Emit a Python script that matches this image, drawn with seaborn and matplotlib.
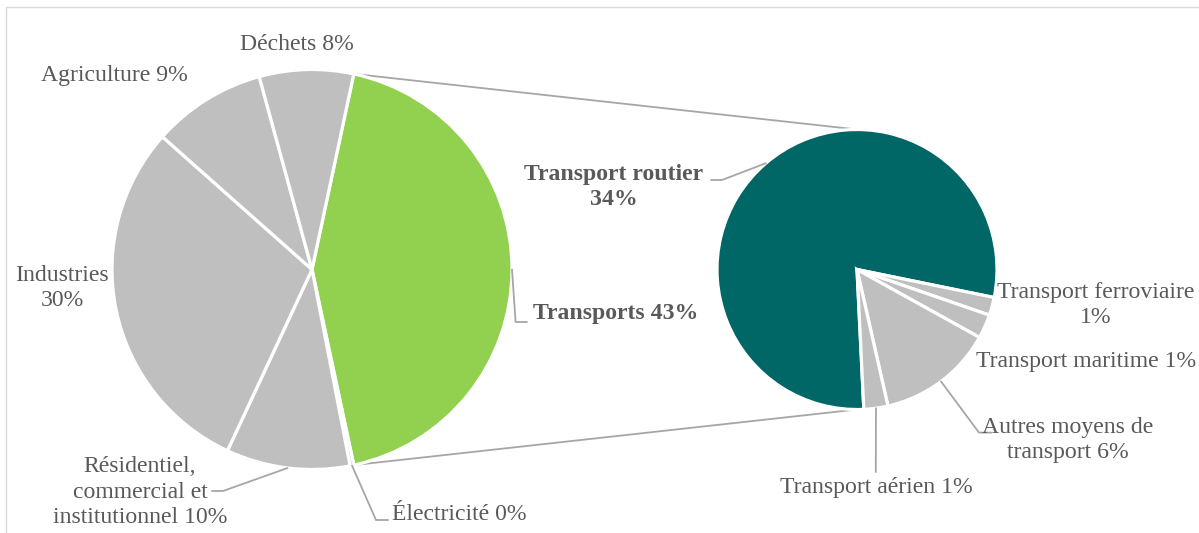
import numpy as np
import matplotlib
matplotlib.use("Agg")
import matplotlib.pyplot as plt
import seaborn as sns
from matplotlib.patches import Rectangle

# ---------------- data ----------------
main_names = ["Transports", "Électricité", "Résidentiel,\ncommercial et\ninstitutionnel",
              "Industries", "Agriculture", "Déchets"]
main_values = [43.3, 0.3, 10.0, 29.6, 9.2, 7.6]

sub_names = ["Transport routier", "Transport ferroviaire", "Transport maritime",
             "Autres moyens de\ntransport", "Transport aérien"]
sub_values = [34.2, 0.9, 1.2, 5.8, 1.2]

# ---------------- style ----------------
sns.set_theme(style="white")
plt.rcParams["font.family"] = ["Liberation Serif", "DejaVu Serif"]
TXT = "#595959"
GREEN = "#92d050"
TEAL = "#006666"
GRAY = "#bfbfbf"
LINE = "#a6a6a6"
FS = 17.1
LS = 1.3

W, H = 1199, 533
fig = plt.figure(figsize=(W / 100, H / 100), dpi=100)
ax = fig.add_axes([0, 0, 1, 1])

# pixel layout -> data coords (left pie centre at pixel (312, 269.5), 200 px per unit)
CX, CY, S = 312.0, 269.5, 200.0
def P(px, py):
    return ((px - CX) / S, (CY - py) / S)

total = sum(main_values)
main_pct = [v / total * 100 for v in main_values]
sub_pct = [v / total * 100 for v in sub_values]

# ---------------- main pie ----------------
main_start = main_values[0] / total * 180.0
main_colors = [GREEN] + [GRAY] * (len(main_values) - 1)
wedges_main, _ = ax.pie(main_values, colors=main_colors, startangle=main_start,
                        counterclock=False, center=(0, 0), radius=1.0,
                        wedgeprops=dict(edgecolor="white", linewidth=2.3))

# ---------------- sub pie ----------------
sub_center = (P(857, 268.5)[0], 0.0)
sub_r = 0.70
sub_colors = [TEAL] + [GRAY] * (len(sub_values) - 1)
wedges_sub, _ = ax.pie(sub_values, colors=sub_colors, startangle=-87.2,
                       counterclock=False, center=sub_center, radius=sub_r,
                       wedgeprops=dict(edgecolor="white", linewidth=2.3))

ax.set_xlim(P(0, 0)[0], P(W, 0)[0])
ax.set_ylim(P(0, H)[1], P(0, 0)[1])
ax.set_aspect("equal")
ax.axis("off")

# ---------------- connector lines ----------------
w0 = wedges_main[0]
for ang, ysign in [(w0.theta2, 1), (w0.theta1, -1)]:
    x0, y0 = np.cos(np.radians(ang)), np.sin(np.radians(ang))
    ax.plot([x0, sub_center[0]], [y0, sub_center[1] + ysign * sub_r],
            color=LINE, lw=1.3, zorder=0, solid_capstyle="butt")

def edge_point(w, center, r):
    a = np.radians((w.theta1 + w.theta2) / 2)
    return (center[0] + r * np.cos(a), center[1] + r * np.sin(a))

# ---------------- labels ----------------
main_layout = [
    (0, " ", (533, 314), "left", True, [(515.6, 322), (527, 322)]),
    (1, " ", (392, 515), "left", False, [(376, 520), (388, 520)]),
    (2, " ", (140, 492), "center", False, [(223, 491), (212, 491)]),
    (3, "\n", (62, 288), "center", False, None),
    (4, " ", (114, 76), "center", False, None),
    (5, " ", (297, 44), "center", False, None),
]
for i, sep, pos, ha, bold, elbow in main_layout:
    txt = f"{main_names[i]}{sep}{main_pct[i]:.0f}%"
    x, y = P(*pos)
    ax.text(x, y, txt, ha=ha, va="center", multialignment="center", fontsize=FS,
            color=TXT, fontweight="bold" if bold else "normal", linespacing=LS)
    if elbow:
        start = edge_point(wedges_main[i], (0, 0), 1.0)
        pts = [start] + [P(*e) for e in elbow]
        ax.plot([p[0] for p in pts], [p[1] for p in pts], color=LINE, lw=1.3)

sub_layout = [
    (0, "\n", (614, 187), "center", True, [(722, 180), (711, 180)]),
    (1, "\n", (1096, 305), "center", False, None),
    (2, " ", (1086, 362), "center", False, None),
    (3, " ", (1068, 440), "center", False, [(979, 432.6), (991.5, 432.6)]),
    (4, " ", (876, 488), "center", False, [(875.8, 472)]),
]
for i, sep, pos, ha, bold, elbow in sub_layout:
    txt = f"{sub_names[i]}{sep}{sub_pct[i]:.0f}%"
    x, y = P(*pos)
    ax.text(x, y, txt, ha=ha, va="center", multialignment="center", fontsize=FS,
            color=TXT, fontweight="bold" if bold else "normal", linespacing=LS)
    if elbow:
        start = edge_point(wedges_sub[i], sub_center, sub_r)
        pts = [start] + [P(*e) for e in elbow]
        ax.plot([p[0] for p in pts], [p[1] for p in pts], color=LINE, lw=1.3)

# chart frame (cropped on right/bottom as in the reference)
fig.add_artist(Rectangle((6 / W, -0.2), 1.3, 1.2 - 7 / H,
                         transform=fig.transFigure, fill=False,
                         edgecolor="#d9d9d9", lw=1.0))

fig.savefig("out.png", dpi=100)
